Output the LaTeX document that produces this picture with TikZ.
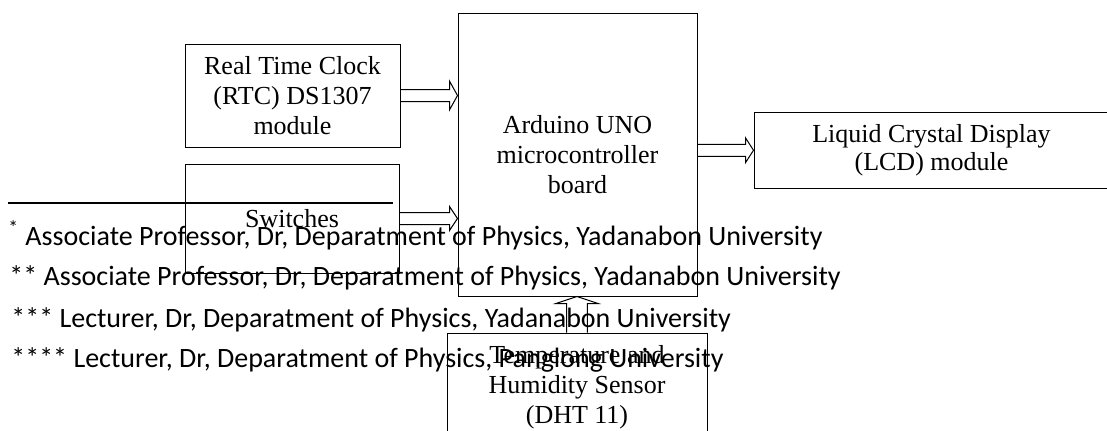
\documentclass[tikz,border=0pt]{standalone}
\usepackage{fontspec}
\setmainfont{Liberation Serif}
\newfontfamily\notefont{Carlito}
\usetikzlibrary{calc}

\begin{document}
\begin{tikzpicture}[x=0.5pt, y=-0.5pt]

% --- 全局样式 ---
\tikzset{
  block/.style={draw, line width=0.5pt, inner sep=0pt, align=center,
    font=\fontsize{13}{15}\selectfont},
  note/.style={anchor=base west, inner sep=0pt,
    font=\notefont\fontsize{14}{16}\selectfont},
  % 空心箭头 (向右): #1 杆半宽, #2 头半宽
  hollow right/.style 2 args={line width=0.5pt, to path={
    let \p1=(\tikztostart), \p2=(\tikztotarget) in
    (\x1,\y1+#1) -- (\x2-4pt,\y1+#1) -- (\x2-4pt,\y1+#2) -- (\x2,\y1)
    -- (\x2-4pt,\y1-#2) -- (\x2-4pt,\y1-#1) -- (\x1,\y1-#1)}},
  % 空心箭头 (向上)
  hollow up/.style 2 args={line width=0.5pt, to path={
    let \p1=(\tikztostart), \p2=(\tikztotarget) in
    (\x1-#1,\y1) -- (\x1-#1,\y2-3.5pt) -- (\x1-#2,\y2-3.5pt) -- (\x1,\y2)
    -- (\x1+#2,\y2-3.5pt) -- (\x1+#1,\y2-3.5pt) -- (\x1+#1,\y1)}}
}

% --- 画面范围 ---
\clip (0,0) rectangle (1107,430);

% --- 方框 ---
\node[block, minimum width=107.5pt, minimum height=51.5pt] (rtc) at (292.5,95.5)
  {Real Time Clock\\(RTC) DS1307\\module};
\node[block, minimum width=107pt, minimum height=54.5pt] (sw) at (292,218.5) {Switches};
\node[block, minimum width=119.5pt, minimum height=141.5pt] (ard) at (577.5,154.5)
  {Arduino UNO\\microcontroller\\board};
\node[block, minimum width=177.5pt, minimum height=37.75pt,
  font=\fontsize{13}{14}\selectfont] (lcd) at (931.5,150.25)
  {Liquid Crystal Display\\(LCD) module};
\node[block, minimum width=130pt, minimum height=54pt] (dht) at (577,387)
  {Temperature and\\Humidity Sensor\\(DHT 11)};

% --- 箭头 ---
\draw[hollow right={3pt}{7.2pt}] (rtc.east) to (rtc.east -| ard.west);
\draw[hollow right={3pt}{6pt}] (sw.east) to (sw.east -| ard.west);
\draw[hollow right={3pt}{6.2pt}] (ard.east |- lcd.west) to (lcd.west);
\draw[hollow up={5.2pt}{10.5pt}] (dht.north) to (dht.north |- ard.south);

% --- 脚注 ---
\draw[line width=1pt] (8,203) -- (393,203); % 脚注分隔线
\node[note] (n1) at (8,245) {\textsuperscript{*} Associate Professor, Dr, Deparatment of Physics, Yadanabon University};
\node[note] (n2) at (9,285) {** Associate Professor, Dr, Deparatment of Physics, Yadanabon University};
\node[note] (n3) at (11,327) {*** Lecturer, Dr, Deparatment of Physics, Yadanabon University};
\node[note] (n4) at (11,367) {**** Lecturer, Dr, Deparatment of Physics, Panglong University};

\end{tikzpicture}
\end{document}
